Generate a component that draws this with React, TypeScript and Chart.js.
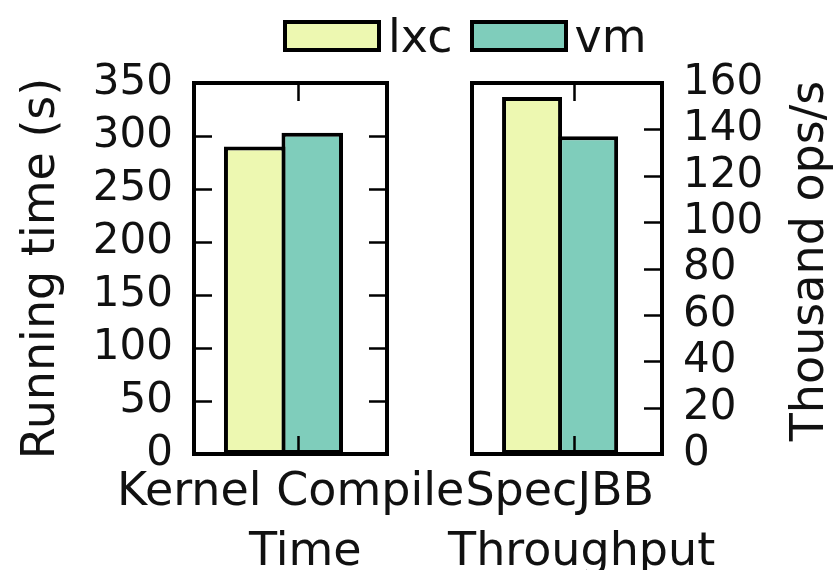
import React, { useEffect, useRef } from "react";
import { Chart, registerables } from "chart.js";

Chart.register(...registerables);

// ---- data ----
const seriesNames = ["lxc", "vm"];
const seriesColors = ["#edf8b1", "#7fcdbb"];

const kernelCategory = ["Kernel Compile ", " Time"];
const kernelLxc = [290];
const kernelVm = [303];
const kernelTicks = [0, 50, 100, 150, 200, 250, 300, 350];
const kernelTitle = "Running time (s)";

const specCategory = ["SpecJBB  ", " Throughput"];
const specLxc = [154];
const specVm = [137];
const specTicks = [0, 20, 40, 60, 80, 100, 120, 140, 160];
const specTitle = "Thousand ops/s";

const FONT = "'DejaVu Sans', 'Liberation Sans', sans-serif";
const TEXT = "#111";

function framePlugin(left: boolean, right: boolean) {
  return {
    id: "frameTicks",
    afterDatasetsDraw(chart: any) {
      const { ctx, chartArea: a, scales } = chart;
      ctx.save();
      ctx.strokeStyle = "#000";
      ctx.lineWidth = 2.5;
      const y = scales.y;
      for (const t of y.ticks) {
        if (t.value === y.min || t.value === y.max) continue;
        const py = Math.round(y.getPixelForValue(t.value)) + 0.5;
        if (left) {
          ctx.beginPath();
          ctx.moveTo(a.left, py);
          ctx.lineTo(a.left + 18, py);
          ctx.stroke();
        }
        if (right) {
          ctx.beginPath();
          ctx.moveTo(a.right, py);
          ctx.lineTo(a.right - 18, py);
          ctx.stroke();
        }
      }
      const x = scales.x;
      x.ticks.forEach((_t: any, i: number) => {
        const px = Math.round(x.getPixelForTick(i)) + 0.5;
        ctx.beginPath();
        ctx.moveTo(px, a.top);
        ctx.lineTo(px, a.top + 18);
        ctx.moveTo(px, a.bottom);
        ctx.lineTo(px, a.bottom - 18);
        ctx.stroke();
      });
      ctx.lineWidth = 4;
      ctx.strokeRect(a.left, a.top, a.right - a.left, a.bottom - a.top);
      ctx.restore();
    },
  };
}

function makeConfig(
  category: string[],
  lxc: number[],
  vm: number[],
  ticks: number[],
  side: "left" | "right",
  title: string
): any {
  const values = [lxc, vm];
  const isLeft = side === "left";
  // bar group sits slightly left of the plot centre, tick mark slightly right (as in the source figure)
  const xMin = -0.4637;
  const xMax = 0.5363;
  const tickPos = 0.075;
  return {
    type: "bar",
    data: {
      datasets: seriesNames.map((name, i) => ({
        label: name,
        data: values[i].map((v, k) => ({ x: k, y: v })),
        backgroundColor: seriesColors[i],
        borderColor: "#000",
        borderWidth: 4,
        borderSkipped: false,
        barPercentage: 1.07,
        categoryPercentage: isLeft ? 0.596 : 0.59,
      })),
    },
    options: {
      animation: false,
      responsive: false,
      maintainAspectRatio: false,
      layout: {
        padding: isLeft
          ? { left: 0, top: 83, right: 447, bottom: 0 }
          : { left: 472, top: 83, right: 0, bottom: 0 },
      },
      plugins: { legend: { display: false }, tooltip: { enabled: false } },
      scales: {
        x: {
          type: "linear",
          offset: false,
          min: xMin,
          max: xMax,
          grid: { display: false, drawTicks: false },
          border: { display: false },
          afterBuildTicks: (s: any) => {
            s.ticks = [{ value: tickPos }];
          },
          ticks: {
            callback: () => category,
            font: { family: FONT, size: 46, lineHeight: 1.3 },
            color: TEXT,
            padding: 9,
            maxRotation: 0,
            minRotation: 0,
            autoSkip: false,
          },
          afterFit: (s: any) => {
            s.height = 116;
          },
        },
        y: {
          position: side,
          min: ticks[0],
          max: ticks[ticks.length - 1],
          grid: { display: false, drawTicks: false },
          border: { display: false },
          afterBuildTicks: (s: any) => {
            s.ticks = ticks.map((v) => ({ value: v }));
          },
          ticks: {
            font: { family: FONT, size: 42 },
            color: TEXT,
            padding: 21,
            autoSkip: false,
          },
          title: {
            display: isLeft,
            text: title,
            color: TEXT,
            font: { family: FONT, size: 46, lineHeight: 1 },
            padding: { top: 19, bottom: 0 },
          },
          afterFit: (s: any) => {
            s.width = isLeft ? 194 : 172;
          },
        },
      },
    },
    plugins: [framePlugin(isLeft, true)],
  };
}

export default function App() {
  const leftRef = useRef<HTMLCanvasElement>(null);
  const rightRef = useRef<HTMLCanvasElement>(null);

  useEffect(() => {
    const c1 = new Chart(
      leftRef.current as HTMLCanvasElement,
      makeConfig(kernelCategory, kernelLxc, kernelVm, kernelTicks, "left", kernelTitle)
    );
    const c2 = new Chart(
      rightRef.current as HTMLCanvasElement,
      makeConfig(specCategory, specLxc, specVm, specTicks, "right", specTitle)
    );
    return () => {
      c1.destroy();
      c2.destroy();
    };
  }, []);

  const canvasStyle: React.CSSProperties = {
    position: "absolute",
    left: 0,
    top: 0,
    width: 834,
    height: 570,
  };

  return (
    <div
      style={{
        position: "absolute",
        left: 0,
        top: 0,
        width: 834,
        height: 570,
        background: "#fff",
        overflow: "hidden",
        fontFamily: FONT,
        color: TEXT,
      }}
    >
      <canvas ref={leftRef} width={834} height={570} style={canvasStyle} />
      <canvas ref={rightRef} width={834} height={570} style={canvasStyle} />
      <div
        style={{
          position: "absolute",
          left: 283,
          top: 20,
          height: 32,
          display: "flex",
          alignItems: "center",
          fontSize: 46,
          lineHeight: "46px",
          whiteSpace: "nowrap",
        }}
      >
        {seriesNames.map((n, i) => (
          <React.Fragment key={n}>
            <div
              style={{
                width: 98,
                height: 32,
                boxSizing: "border-box",
                border: "4px solid #000",
                background: seriesColors[i],
              }}
            />
            <span style={{ marginLeft: 7, marginRight: i === 0 ? 17 : 0 }}>{n}</span>
          </React.Fragment>
        ))}
      </div>
      <div
        style={{
          position: "absolute",
          left: 807 - 250,
          top: 261 - 23,
          width: 500,
          height: 46,
          fontSize: 46,
          lineHeight: "46px",
          textAlign: "center",
          whiteSpace: "nowrap",
          transform: "rotate(-90deg)",
        }}
      >
        {specTitle}
      </div>
    </div>
  );
}
